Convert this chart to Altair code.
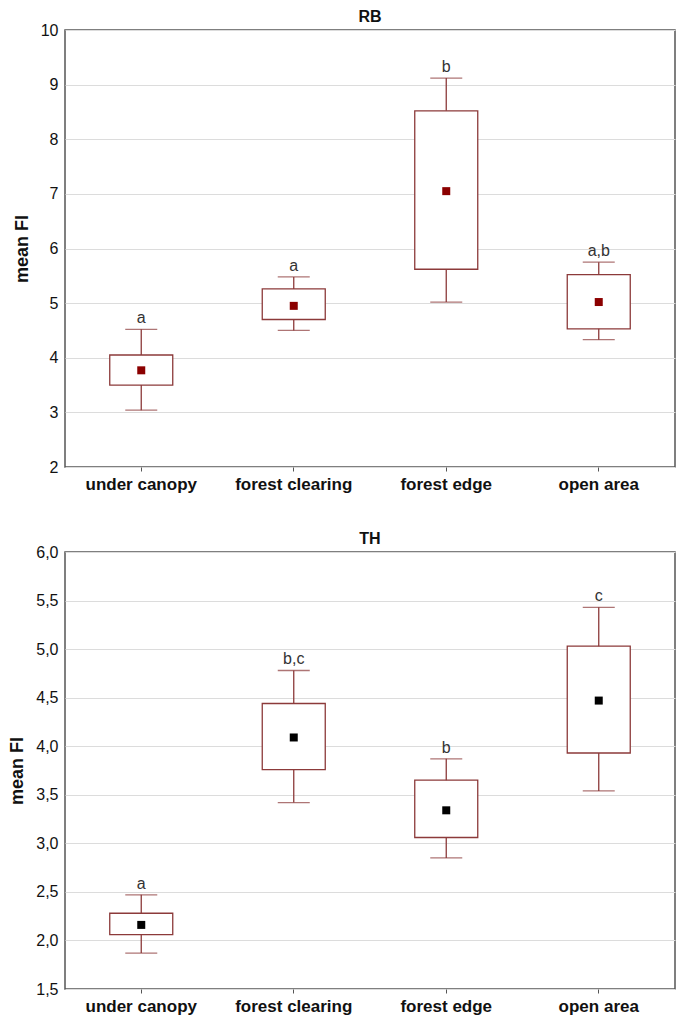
import altair as alt
import pandas as pd

categories = ["under canopy", "forest clearing", "forest edge", "open area"]

# RB panel
rb_whisker_low = [3.04, 4.50, 5.02, 4.33]
rb_box_low = [3.50, 4.70, 5.62, 4.53]
rb_mean = [3.77, 4.95, 7.05, 5.02]
rb_box_high = [4.05, 5.26, 8.52, 5.52]
rb_whisker_high = [4.52, 5.48, 9.12, 5.75]
rb_letters = ["a", "a", "b", "a,b"]

# TH panel
th_whisker_low = [1.87, 3.42, 2.85, 3.54]
th_box_low = [2.06, 3.76, 3.06, 3.93]
th_mean = [2.16, 4.09, 3.34, 4.47]
th_box_high = [2.28, 4.44, 3.65, 5.03]
th_whisker_high = [2.47, 4.78, 3.87, 5.43]
th_letters = ["a", "b,c", "b", "c"]

rb_ticks = [2, 3, 4, 5, 6, 7, 8, 9, 10]
th_ticks = [1.5, 2.0, 2.5, 3.0, 3.5, 4.0, 4.5, 5.0, 5.5, 6.0]

BOX = "#8c3a3a"
FONT = "Liberation Sans"


def panel(title, wl, bl, mn, bh, wh, letters, ticks, mean_color, label_expr, width, height):
    df = pd.DataFrame({
        "cat": categories, "wl": wl, "bl": bl, "mn": mn,
        "bh": bh, "wh": wh, "letter": letters,
    })
    x = alt.X("cat:N", sort=categories,
              axis=alt.Axis(labelAngle=0, title=None, labelFontSize=17,
                            labelFontWeight="bold", labelColor="#111",
                            labelFont=FONT, ticks=True, tickSize=4,
                            tickColor="#555", domain=False, labelPadding=5))
    yscale = alt.Scale(domain=[ticks[0], ticks[-1]], nice=False, zero=False)
    yaxis = alt.Axis(title="mean FI", values=ticks, labelExpr=label_expr,
                     labelFontSize=16, labelColor="#111", labelFont=FONT,
                     titleFontSize=18, titleFont=FONT, titleFontWeight="bold",
                     titleColor="#111", ticks=False, domain=False,
                     gridColor="#dcdcdc", gridWidth=1.2, labelPadding=7,
                     titlePadding=9)
    base = alt.Chart(df)
    whisk = base.mark_rule(color=BOX, strokeWidth=1.3).encode(
        x=x, y=alt.Y("wl:Q", scale=yscale, axis=yaxis), y2="wh:Q")
    box = base.mark_bar(size=63, fill="white", stroke=BOX, strokeWidth=1.3).encode(
        x=x, y=alt.Y("bl:Q", scale=yscale), y2="bh:Q")
    cap_hi = base.mark_tick(color=BOX, size=32, thickness=1.3, orient="horizontal").encode(
        x=x, y=alt.Y("wh:Q", scale=yscale))
    cap_lo = base.mark_tick(color=BOX, size=32, thickness=1.3, orient="horizontal").encode(
        x=x, y=alt.Y("wl:Q", scale=yscale))
    mean = base.mark_square(size=64, color=mean_color, opacity=1).encode(
        x=x, y=alt.Y("mn:Q", scale=yscale))
    text = base.mark_text(baseline="bottom", dy=-3, fontSize=16, color="#333",
                          font=FONT).encode(
        x=x, y=alt.Y("wh:Q", scale=yscale), text="letter:N")
    return alt.layer(whisk, box, cap_hi, cap_lo, mean, text).properties(
        width=width, height=height,
        title=alt.TitleParams(title, fontSize=16, font=FONT, fontWeight="bold",
                              color="#111", offset=-3))


top = panel("RB", rb_whisker_low, rb_box_low, rb_mean, rb_box_high, rb_whisker_high,
            rb_letters, rb_ticks, "#8b0000", "format(datum.value, 'd')", 610, 437)
bottom = panel("TH", th_whisker_low, th_box_low, th_mean, th_box_high, th_whisker_high,
               th_letters, th_ticks, "#000000",
               "replace(format(datum.value, '.1f'), '.', ',')", 610, 437)

chart = alt.vconcat(top, bottom, spacing=37, padding=0).configure_view(
    stroke="#555", strokeWidth=1.5).configure_axisX(grid=False)

chart.save("out.html", embed_options={"renderer": "svg", "actions": False})
